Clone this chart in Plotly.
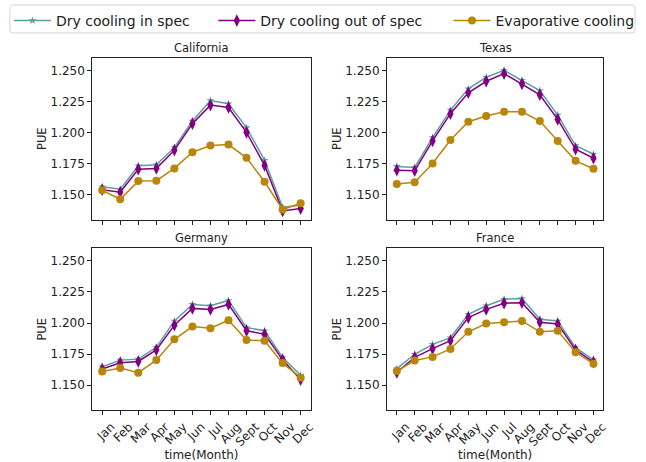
import plotly.graph_objects as go

months = ["Jan", "Feb", "Mar", "Apr", "May", "Jun", "Jul", "Aug", "Sept", "Oct", "Nov", "Dec"]
regions = ["California", "Texas", "Germany", "France"]
series_names = ["Dry cooling in spec", "Dry cooling out of spec", "Evaporative cooling"]

california_in = [1.1564, 1.1543, 1.1732, 1.1740, 1.1879, 1.2092, 1.2257, 1.2231, 1.2039, 1.1777, 1.1399, 1.1415]
california_out = [1.1540, 1.1519, 1.1705, 1.1711, 1.1857, 1.2071, 1.2220, 1.2201, 1.2001, 1.1735, 1.1369, 1.1388]
california_evap = [1.1535, 1.1463, 1.1609, 1.1612, 1.1711, 1.1841, 1.1895, 1.1903, 1.1796, 1.1604, 1.1380, 1.1431]

texas_in = [1.1727, 1.1719, 1.1959, 1.2180, 1.2351, 1.2444, 1.2500, 1.2420, 1.2337, 1.2140, 1.1895, 1.1825]
texas_out = [1.1697, 1.1692, 1.1932, 1.2151, 1.2319, 1.2412, 1.2473, 1.2391, 1.2303, 1.2105, 1.1865, 1.1793]
texas_evap = [1.1585, 1.1599, 1.1751, 1.1940, 1.2087, 1.2132, 1.2167, 1.2167, 1.2092, 1.1932, 1.1772, 1.1708]

germany_in = [1.1649, 1.1702, 1.1710, 1.1805, 1.2017, 1.2150, 1.2139, 1.2182, 1.1964, 1.1938, 1.1723, 1.1580]
germany_out = [1.1630, 1.1680, 1.1691, 1.1784, 1.1983, 1.2118, 1.2110, 1.2150, 1.1938, 1.1911, 1.1704, 1.1545]
germany_evap = [1.1611, 1.1638, 1.1601, 1.1702, 1.1869, 1.1972, 1.1959, 1.2023, 1.1863, 1.1858, 1.1678, 1.1561]

france_in = [1.1633, 1.1749, 1.1829, 1.1882, 1.2070, 1.2139, 1.2192, 1.2198, 1.2031, 1.2017, 1.1802, 1.1704]
france_out = [1.1603, 1.1725, 1.1794, 1.1858, 1.2044, 1.2110, 1.2160, 1.2163, 1.2007, 1.1993, 1.1784, 1.1686]
france_evap = [1.1614, 1.1699, 1.1728, 1.1792, 1.1930, 1.1996, 1.2007, 1.2017, 1.1930, 1.1938, 1.1765, 1.1672]

y_ticks = [1.150, 1.175, 1.200, 1.225, 1.250]
y_tick_labels = ["1.150", "1.175", "1.200", "1.225", "1.250"]

data = {
    "California": [california_in, california_out, california_evap],
    "Texas": [texas_in, texas_out, texas_evap],
    "Germany": [germany_in, germany_out, germany_evap],
    "France": [france_in, france_out, france_evap],
}

W, H = 646, 462
colors = ["#5f9ea0", "#800080", "#b8860b"]
symbols = ["star", "diamond-tall", "circle"]
msizes = [6, 9, 8]
legend_ids = ["legend", "legend2", "legend3"]
legend_px = [9, 215, 452]

# pixel boxes (left, right, top, bottom)
boxes = [(93, 313, 58, 220), (390, 608, 58, 220), (93, 313, 249, 411), (390, 608, 249, 411)]

fig = go.Figure()
font = "DejaVu Sans, Arial, sans-serif"
ink = "#222"

for i, reg in enumerate(regions):
    ax = "" if i == 0 else str(i + 1)
    for s in range(3):
        fig.add_trace(go.Scatter(
            x=months, y=data[reg][s], mode="lines+markers",
            name=series_names[s], legendgroup=series_names[s], showlegend=(i == 0),
            legend=legend_ids[s],
            line=dict(color=colors[s], width=1.5),
            marker=dict(symbol=symbols[s], size=msizes[s], color=colors[s],
                        line=dict(width=0)),
            xaxis="x" + ax, yaxis="y" + ax,
        ))

layout = dict(
    width=W, height=H, margin=dict(l=0, r=0, t=0, b=0),
    paper_bgcolor="white", plot_bgcolor="white",
    font=dict(family=font, color=ink),
    annotations=[],
)
for k, lid in enumerate(legend_ids):
    layout[lid] = dict(
        orientation="h", x=legend_px[k] / W, xanchor="left", y=1 - 5 / H, yanchor="top",
        font=dict(size=14, family=font, color=ink),
        borderwidth=0, bgcolor="rgba(0,0,0,0)", itemwidth=37,
    )

# rounded legend frame (pixel -> paper)
x0, x1, y0, y1, rr = 10 / W, 640 / W, 1 - 5 / H, 1 - 33 / H, 3
rx, ry = rr / W, rr / H
path = (f"M{x0+rx},{y0} L{x1-rx},{y0} Q{x1},{y0} {x1},{y0-ry} L{x1},{y1+ry} "
        f"Q{x1},{y1} {x1-rx},{y1} L{x0+rx},{y1} Q{x0},{y1} {x0},{y1+ry} "
        f"L{x0},{y0-ry} Q{x0},{y0} {x0+rx},{y0} Z")
layout["shapes"] = [dict(type="path", path=path, xref="paper", yref="paper",
                         line=dict(color="#d4d4d4", width=1), fillcolor="rgba(255,255,255,0.8)",
                         layer="below")]

for i, reg in enumerate(regions):
    l, r, t, b = boxes[i]
    ax = "" if i == 0 else str(i + 1)
    bottom_row = i >= 2
    layout["xaxis" + ax] = dict(
        domain=[l / W, r / W], anchor="y" + ax,
        type="category", categoryorder="array", categoryarray=months,
        range=[-0.55, 11.55],
        showline=True, mirror=True, linecolor=ink, linewidth=1,
        ticks="outside", ticklen=4, tickcolor=ink,
        showticklabels=bottom_row, tickangle=-45, ticklabelshift=9,
        tickfont=dict(size=12, family=font, color=ink),
        showgrid=False, zeroline=False,
        title=dict(text="time(Month)" if bottom_row else "",
                   font=dict(size=12, family=font, color=ink), standoff=4),
    )
    layout["yaxis" + ax] = dict(
        domain=[1 - b / H, 1 - t / H], anchor="x" + ax,
        range=[1.130, 1.260], tickvals=y_ticks, ticktext=y_tick_labels,
        showline=True, mirror=True, linecolor=ink, linewidth=1,
        ticks="outside", ticklen=4, tickcolor=ink,
        tickfont=dict(size=12, family=font, color=ink),
        showgrid=False, zeroline=False,
        title=dict(text="PUE", font=dict(size=11.5, family=font, color=ink), standoff=1),
    )
    layout["annotations"].append(dict(
        text=reg, x=(l + r) / 2 / W, y=1 - (t - 10) / H, xref="paper", yref="paper",
        xanchor="center", yanchor="middle", showarrow=False,
        font=dict(size=11.5, family=font, color=ink),
    ))

fig.update_layout(**layout)
fig.write_html("out.html")
